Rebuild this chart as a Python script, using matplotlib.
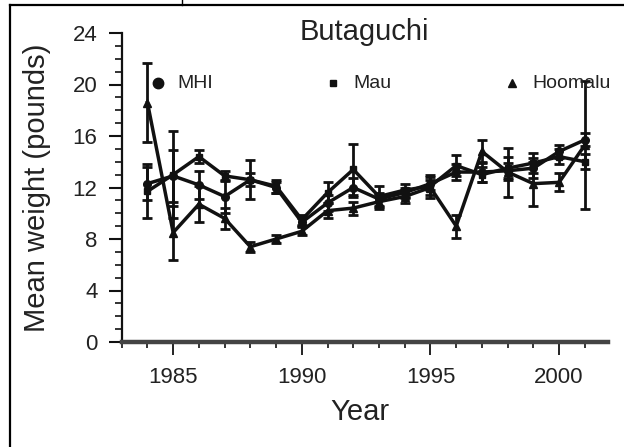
import matplotlib
matplotlib.use("Agg")
import matplotlib.pyplot as plt
from matplotlib.lines import Line2D
from matplotlib.ticker import MultipleLocator

plt.rcParams['font.family'] = ['Liberation Sans', 'DejaVu Sans']

years = list(range(1984, 2002))

mhi = [12.3, 12.9, 12.2, 11.3, 12.6, 12.0, 9.3, 10.8, 12.0, 11.1, 11.6, 12.3, 13.2, 13.2, 13.3, 13.5, 14.8, 15.7]
mhi_err = [1.3, 2.0, 1.1, 1.3, 0.5, 0.4, 0.3, 0.6, 0.7, 0.5, 0.4, 0.5, 0.6, 0.8, 0.6, 0.8, 0.5, 0.5]

maui = [11.7, 13.0, 14.4, 12.9, 12.6, 12.1, 9.5, 11.6, 13.4, 11.3, 11.8, 12.1, 13.7, 13.0, 13.5, 13.9, 14.4, 14.0]
maui_err = [2.1, 3.4, 0.5, 0.4, 1.5, 0.5, 0.4, 0.8, 2.0, 0.8, 0.5, 0.9, 0.8, 0.6, 0.9, 0.8, 0.6, 0.6]

hoomalu = [18.6, 8.5, 10.7, 9.6, 7.4, 8.0, 8.6, 10.2, 10.4, 10.9, 11.3, 12.0, 9.0, 14.8, 13.2, 12.3, 12.4, 15.3]
hoomalu_err = [3.1, 2.1, 1.4, 0.8, 0.4, 0.3, 0.3, 0.6, 0.5, 0.6, 0.5, 0.6, 0.9, 0.9, 1.9, 1.7, 0.7, 5.0]

series_names = ["MHI", "Mau", "Hoomalu"]
ink = "#111111"
txt = "#222222"

fig = plt.figure(figsize=(6.24, 4.47), dpi=100)
ax = fig.add_axes([121.7/624, 1-342/447, (608-121.7)/624, (342-33)/447])

markers = ["o", "s", "^"]
for vals, errs, m, ms in [(mhi, mhi_err, "o", 5.5), (maui, maui_err, "s", 5), (hoomalu, hoomalu_err, "^", 6)]:
    ax.errorbar(years, vals, yerr=errs, fmt="-", marker=m, ms=ms, color=ink,
                lw=2.5, elinewidth=2.0, capsize=3.5, capthick=2.0, clip_on=False)

ax.set_xlim(1983, 2001.9)
ax.set_ylim(0, 24)
ax.xaxis.set_major_locator(MultipleLocator(5))
ax.xaxis.set_minor_locator(MultipleLocator(1))
ax.yaxis.set_major_locator(MultipleLocator(4))
ax.yaxis.set_minor_locator(MultipleLocator(1))

for s in ["top", "right"]:
    ax.spines[s].set_visible(False)
ax.spines["left"].set_linewidth(1.6)
ax.spines["left"].set_color(ink)
ax.spines["bottom"].set_linewidth(3.2)
ax.spines["bottom"].set_color("#444444")

ax.tick_params(axis="y", which="major", length=9.4, width=1.5, pad=8, labelsize=16, colors=ink)
ax.tick_params(axis="y", which="minor", length=5, width=1.2, colors=ink)
ax.tick_params(axis="x", which="major", length=9, width=1.3, pad=9, labelsize=16, colors=ink)
ax.tick_params(axis="x", which="minor", length=4, width=1.2, colors=ink)
for lbl in ax.get_xticklabels() + ax.get_yticklabels():
    lbl.set_color(txt)

ax.set_xlabel("Year", fontsize=21, color=txt, va="center")
ax.xaxis.set_label_coords(0.49, (342-412)/309)
ax.set_ylabel("Mean weight (pounds)", fontsize=21, color=txt, va="center")
ax.yaxis.set_label_coords((37-121.7)/486.3, 0.5)

ax.text(0.5, 1.003, "Butaguchi", transform=ax.transAxes, ha="center", va="center",
        fontsize=21, color=txt)

# in-plot legend
leg_y = (342-83)/309
leg_mx = [(158-121.7)/486.3, (333-121.7)/486.3, (512-121.7)/486.3]
leg_tx = [(177-121.7)/486.3, (353-121.7)/486.3, (532-121.7)/486.3]
leg_ms = [7.5, 5, 6]
for name, mx, tx, m, ms in zip(series_names, leg_mx, leg_tx, markers, leg_ms):
    ax.plot([mx], [leg_y], marker=m, ms=ms, color=ink, transform=ax.transAxes, clip_on=False, ls="none")
    ax.text(tx, leg_y, name, transform=ax.transAxes, ha="left", va="center", fontsize=14, color=txt)

# page frame
fig.add_artist(Line2D([10/624, 1], [1-5/447, 1-5/447], transform=fig.transFigure, color="black", lw=1.6))
fig.add_artist(Line2D([10/624, 10/624], [0, 1-5/447], transform=fig.transFigure, color="black", lw=1.6))
fig.add_artist(Line2D([182/624, 182/624], [1-5/447, 1], transform=fig.transFigure, color="black", lw=1.0))

fig.savefig("out.png", dpi=100)
